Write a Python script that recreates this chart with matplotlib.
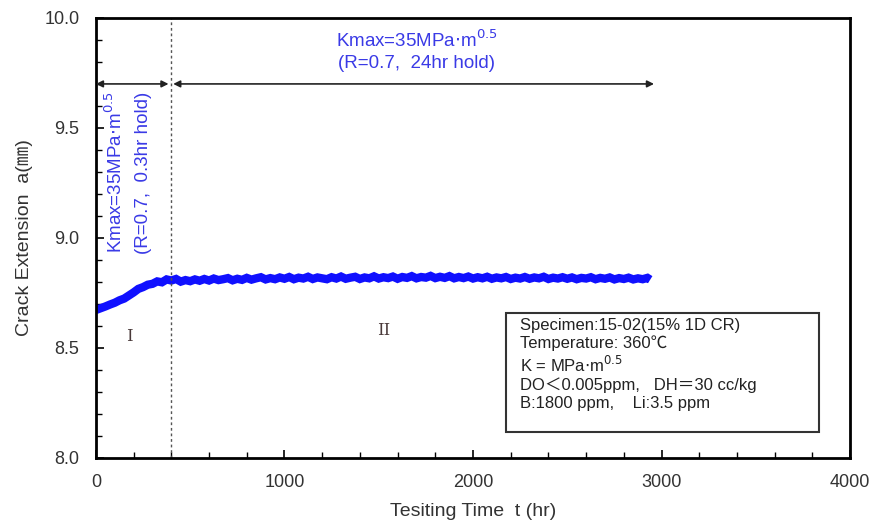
import matplotlib.pyplot as plt
from matplotlib.patches import Rectangle
from matplotlib.ticker import MultipleLocator

plt.rcParams['font.family'] = ['Liberation Sans', 'Noto Sans CJK JP', 'DejaVu Sans']

# time (hr) and crack extension a (mm) (noisy trace)
time_hr = [0, 25, 50, 75, 100, 125, 150, 175, 200, 225, 250, 275, 300, 325, 350,
           375, 400, 425, 450, 475, 500, 525, 550, 575, 600, 625, 650, 675, 700,
           725, 750, 775, 800, 825, 850, 875, 900, 925, 950, 975, 1000, 1025, 1050,
           1075, 1100, 1125, 1150, 1175, 1200, 1225, 1250, 1275, 1300, 1325, 1350,
           1375, 1400, 1425, 1450, 1475, 1500, 1525, 1550, 1575, 1600, 1625, 1650,
           1675, 1700, 1725, 1750, 1775, 1800, 1825, 1850, 1875, 1900, 1925, 1950,
           1975, 2000, 2025, 2050, 2075, 2100, 2125, 2150, 2175, 2200, 2225, 2250,
           2275, 2300, 2325, 2350, 2375, 2400, 2425, 2450, 2475, 2500, 2525, 2550,
           2575, 2600, 2625, 2650, 2675, 2700, 2725, 2750, 2775, 2800, 2825, 2850,
           2875, 2900, 2925, 2940]
crack_a = [8.672, 8.680, 8.688, 8.697, 8.705, 8.716, 8.724, 8.738, 8.752, 8.768,
           8.776, 8.787, 8.791, 8.802, 8.798, 8.811, 8.806, 8.813, 8.801, 8.808,
           8.803, 8.811, 8.805, 8.813, 8.806, 8.815, 8.808, 8.812, 8.817, 8.807,
           8.814, 8.809, 8.818, 8.810, 8.816, 8.821, 8.811, 8.817, 8.812, 8.820,
           8.814, 8.822, 8.812, 8.819, 8.815, 8.823, 8.813, 8.820, 8.816, 8.812,
           8.821, 8.815, 8.824, 8.814, 8.819, 8.823, 8.813, 8.820, 8.816, 8.825,
           8.815, 8.821, 8.817, 8.824, 8.814, 8.822, 8.818, 8.826, 8.816, 8.822,
           8.819, 8.827, 8.817, 8.823, 8.818, 8.826, 8.816, 8.822, 8.817, 8.824,
           8.815, 8.821, 8.816, 8.823, 8.814, 8.820, 8.816, 8.822, 8.813, 8.819,
           8.815, 8.822, 8.814, 8.820, 8.816, 8.823, 8.813, 8.819, 8.815, 8.821,
           8.814, 8.820, 8.812, 8.818, 8.815, 8.821, 8.812, 8.818, 8.814, 8.820,
           8.811, 8.817, 8.813, 8.819, 8.811, 8.816, 8.812, 8.818, 8.810]

blue = '#1010ff'
text_blue = '#3a3ae6'
gray = '#333333'

fig = plt.figure(figsize=(8.8, 5.28), dpi=100)
ax = fig.add_axes([0.109, 0.133, 0.857, 0.833])

ax.plot(time_hr, crack_a, color=blue, lw=6, solid_joinstyle='miter',
        solid_capstyle='butt')

ax.set_xlim(0, 4000)
ax.set_ylim(8.0, 10.0)
ax.xaxis.set_major_locator(MultipleLocator(1000))
ax.xaxis.set_minor_locator(MultipleLocator(200))
ax.yaxis.set_major_locator(MultipleLocator(0.5))
ax.yaxis.set_minor_locator(MultipleLocator(0.1))
ax.yaxis.set_major_formatter(plt.FormatStrFormatter('%.1f'))
ax.tick_params(which='both', direction='in', top=False, right=False,
               labelsize=13, labelcolor=gray)
ax.tick_params(which='major', length=6, width=1.2, pad=12)
ax.tick_params(which='minor', length=4, width=1)
for s in ax.spines.values():
    s.set_linewidth(2)

ax.set_xlabel('Tesiting Time  t (hr)', fontsize=14, color=gray, labelpad=8)
ax.set_ylabel('Crack Extension  a(㎜)', fontsize=14, color=gray, labelpad=8)

# boundary between hold conditions
ax.axvline(400, color='#555555', lw=1, ls=(0, (2, 2)))

arrow = dict(arrowstyle='<|-|>', color='#222222', lw=1.2,
             shrinkA=0, shrinkB=0, mutation_scale=10)
ax.annotate('', xy=(0, 9.70), xytext=(385, 9.70), arrowprops=arrow)
ax.annotate('', xy=(410, 9.70), xytext=(2960, 9.70), arrowprops=arrow)

ax.text(1700, 9.90, r'Kmax=35MPa$\cdot$m$^{0.5}$', color=text_blue,
        fontsize=13.5, ha='center', va='center')
ax.text(1700, 9.795, '(R=0.7,  24hr hold)', color=text_blue,
        fontsize=13.5, ha='center', va='center')
ax.text(100, 9.665, r'Kmax=35MPa$\cdot$m$^{0.5}$', color=text_blue,
        fontsize=13.5, ha='center', va='top', rotation=90)
ax.text(255, 9.665, '(R=0.7,  0.3hr hold)', color=text_blue,
        fontsize=13.5, ha='center', va='top', rotation=90)

ax.text(175, 8.55, 'I', fontsize=12, ha='center', va='center',
        family='DejaVu Serif', color='#4a3a3a')
ax.text(1525, 8.58, 'II', fontsize=12, ha='center', va='center',
        family='DejaVu Serif', color='#4a3a3a')

# condition box
ax.add_patch(Rectangle((2175, 8.115), 1660, 0.545, fc='white', ec='#333333',
                       lw=1.5, zorder=3))
info = ('Specimen:15-02(15% 1D CR)\n'
        'Temperature: 360℃\n'
        r'K = MPa$\cdot$m$^{0.5}$' + '\n'
        'DO＜0.005ppm,   DH＝30 cc/kg\n'
        'B:1800 ppm,    Li:3.5 ppm')
ax.text(2250, 8.635, info, fontsize=12, ha='left', va='top', linespacing=1.2,
        color='#222222', zorder=4)

fig.savefig('out.png', dpi=100)
